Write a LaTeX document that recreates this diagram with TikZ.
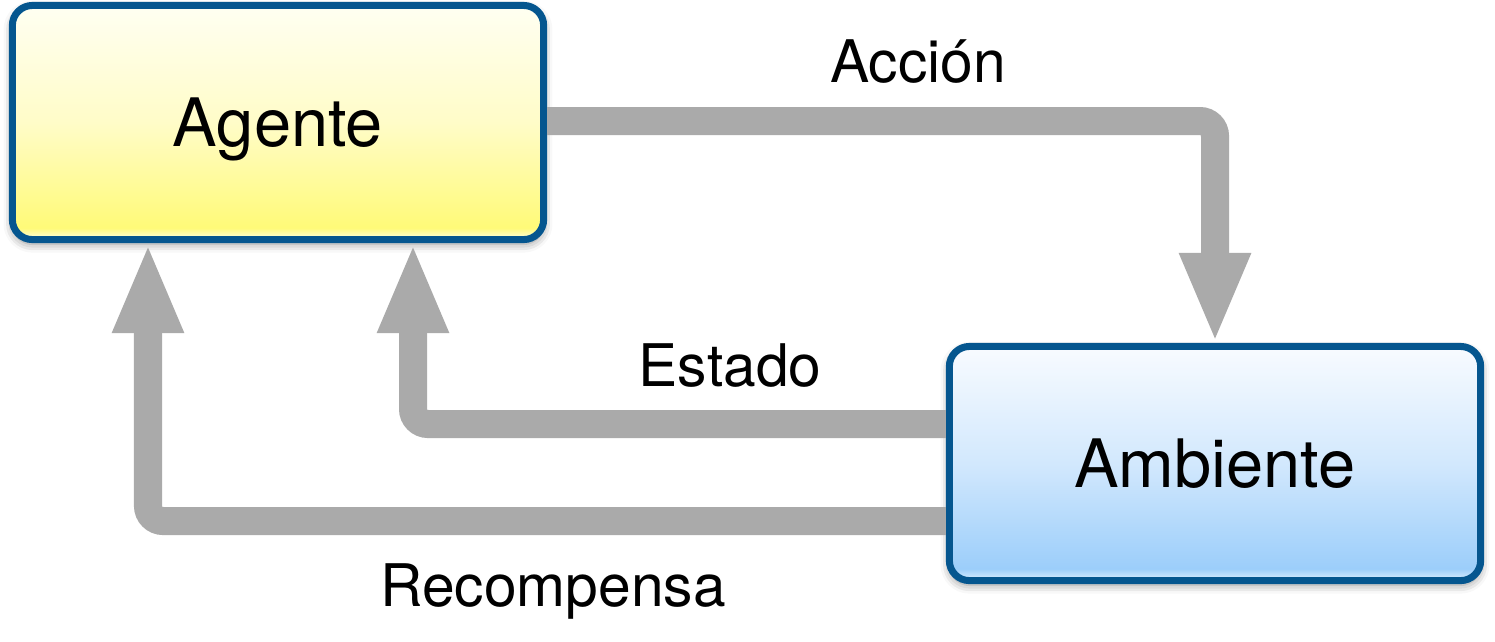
\documentclass[tikz,border=0pt]{standalone}
\usepackage{fontspec}
\setmainfont{TeX Gyre Heros}
\usepackage{tikz}
\tikzset{>=latex}
\usetikzlibrary{arrows.meta}
\usetikzlibrary{shadows.blur}
\definecolor{box blue}{HTML}{05568F}
\definecolor{flow gray}{HTML}{AAAAAA}
\definecolor{agente low}{HTML}{FFFFE6}
\definecolor{agente band}{HTML}{FFFA78}
\definecolor{agente mid}{HTML}{FFFCC8}
\definecolor{agente top}{HTML}{FFFFF2}
\definecolor{ambiente low}{HTML}{E2F1FF}
\definecolor{ambiente band}{HTML}{9CCEFA}
\definecolor{ambiente mid}{HTML}{D2E8FD}
\definecolor{ambiente top}{HTML}{F8FBFF}
\pgfdeclareverticalshading{agente fill}{100bp}{color(0bp)=(agente low); color(25bp)=(agente low);
  color(27.5bp)=(agente band); color(50bp)=(agente mid); color(75bp)=(agente top); color(100bp)=(agente top)}
\pgfdeclareverticalshading{ambiente fill}{100bp}{color(0bp)=(ambiente low); color(25bp)=(ambiente low);
  color(27.5bp)=(ambiente band); color(50bp)=(ambiente mid); color(75bp)=(ambiente top); color(100bp)=(ambiente top)}

\begin{document}
\begin{tikzpicture}[x=0.01cm, y=-0.01cm,
    box/.style={draw=box blue, line width=0.07cm, rounded corners=0.2cm,
      minimum width=5.31cm, minimum height=2.34cm, inner sep=0pt,
      font=\fontsize{19}{22}\selectfont,
      blur shadow={shadow xshift=0pt, shadow yshift=-1.2pt, shadow blur radius=2.5pt, shadow opacity=45}},
    flow/.style={draw=flow gray, line width=0.28cm, rounded corners=0.15cm,
      -{Triangle[width=0.65cm, length=0.9cm]}},
    tag/.style={anchor=base, font=\fontsize{16.7}{19}\selectfont}]
    \useasboundingbox (0, 0) rectangle (1495, 641);
    % the two boxes
    \node[box, shading=agente fill, text depth=0pt] (Agente) at (278, 122.5) {Agente};
    \node[box, shading=ambiente fill] (Ambiente) at (1215, 463.5) {Ambiente};
    % the loop
    \draw[flow] (Agente.east |- 0,121) -| (Ambiente.north);
    \draw[flow] (Ambiente.west |- 0,424) -| (413,0 |- Agente.south);
    \draw[flow] (Ambiente.west |- 0,521) -| (148,0 |- Agente.south);
    \node[tag] (Accion) at (918, 82) {Acción};
    \node[tag] (Estado) at (730, 386) {Estado};
    \node[tag] (Recompensa) at (553, 606) {Recompensa};
\end{tikzpicture}
\end{document}
